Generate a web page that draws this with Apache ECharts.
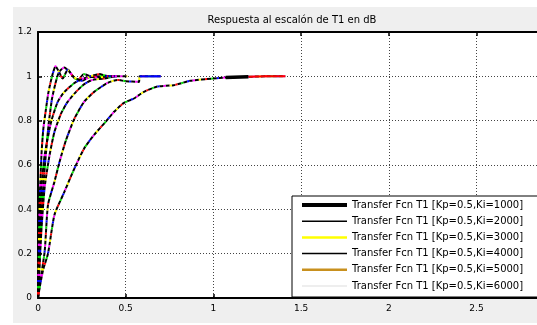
<!DOCTYPE html>
<html>
<head>
<meta charset="utf-8">
<script src="https://cdn.jsdelivr.net/npm/echarts@6/dist/echarts.min.js"></script>
<style>
html,body{margin:0;padding:0;background:#fff;overflow:hidden;}
#c{width:570px;height:325px;}
</style>
</head>
<body>
<div id="c"></div>
<script>
// ---- data ----
const titleText = 'Respuesta al escalón de T1 en dB';
const legendNames = [
  'Transfer Fcn T1 [Kp=0.5,Ki=1000]',
  'Transfer Fcn T1 [Kp=0.5,Ki=2000]',
  'Transfer Fcn T1 [Kp=0.5,Ki=3000]',
  'Transfer Fcn T1 [Kp=0.5,Ki=4000]',
  'Transfer Fcn T1 [Kp=0.5,Ki=5000]',
  'Transfer Fcn T1 [Kp=0.5,Ki=6000]'
];
const tA = [0, 0.01, 0.03, 0.057, 0.094, 0.151, 0.208, 0.264, 0.32, 0.387, 0.434, 0.49, 0.547, 0.604, 0.68, 0.774, 0.868, 1.0, 1.07, 1.2, 1.3, 1.41];
const yA = [0, 0.05, 0.13, 0.2, 0.375, 0.48, 0.585, 0.676, 0.736, 0.796, 0.84, 0.88, 0.90, 0.93, 0.954, 0.96, 0.98, 0.99, 0.995, 0.998, 1.0, 1.0];
const tB = [0, 0.01, 0.038, 0.057, 0.094, 0.123, 0.16, 0.208, 0.264, 0.32, 0.396, 0.453, 0.5, 0.575, 0.58, 0.70];
const yB = [0, 0.06, 0.21, 0.42, 0.525, 0.615, 0.713, 0.81, 0.886, 0.93, 0.97, 0.984, 0.978, 0.975, 1.0, 1.0];
const tC = [0, 0.006, 0.019, 0.038, 0.066, 0.094, 0.132, 0.17, 0.217, 0.264, 0.311, 0.377, 0.45, 0.51];
const yC = [0, 0.1, 0.3, 0.5, 0.645, 0.75, 0.833, 0.886, 0.93, 0.965, 0.984, 0.99, 1.0, 1.0];
const tD = [0, 0.005, 0.0094, 0.02, 0.038, 0.075, 0.113, 0.151, 0.208, 0.264, 0.358, 0.45];
const yD = [0, 0.15, 0.3, 0.5, 0.645, 0.795, 0.886, 0.93, 0.97, 0.992, 1.0, 1.0];
const tE = [0, 0.01, 0.02, 0.03, 0.045, 0.06, 0.08, 0.1, 0.12, 0.15, 0.18, 0.21, 0.25, 0.3, 0.35, 0.4, 0.45];
const yE = [0, 0.2, 0.38, 0.5, 0.65, 0.78, 0.9, 0.97, 1.02, 1.04, 1.02, 0.99, 0.98, 1.0, 1.01, 1.0, 1.0];
const tF = [0, 0.005, 0.01, 0.02, 0.03, 0.045, 0.06, 0.08, 0.1, 0.12, 0.14, 0.17, 0.2, 0.23, 0.26, 0.3, 0.34, 0.4];
const yF = [0, 0.25, 0.45, 0.65, 0.76, 0.85, 0.93, 1.0, 1.045, 1.02, 0.99, 1.03, 1.0, 0.985, 1.01, 1.0, 0.995, 1.0];

const curveT = [tA, tB, tC, tD, tE, tF];
const curveY = [yA, yB, yC, yD, yE, yF];
const legendColors = ['#000000', '#000000', '#ffff00', '#000000', '#c8901e', '#e8e8e8'];
const legendWidths = [4, 1.5, 2.5, 1.5, 2.5, 1.5];
const overlayColors = ['#ff0000', '#00e000', '#0000ff', '#ff00ff', '#ffff00'];

// ---- build ----
function pairs(t, y) { return t.map((v, i) => [v, y[i]]); }

const series = [];
curveT.forEach((t, i) => {
  const d = pairs(t, curveY[i]);
  series.push({
    name: legendNames[i], type: 'line', data: d, symbol: 'none', smooth: 0.2,
    itemStyle: { color: legendColors[i] },
    lineStyle: { color: '#000', width: 2, type: [4, 2] }, z: 3
  });
  overlayColors.forEach((c, k) => {
    series.push({
      name: 'ov' + i + '_' + k, type: 'line', data: d, symbol: 'none', smooth: 0.2,
      lineStyle: { color: c, width: 2, type: [2, 28], dashOffset: (30 - (4 + 6 * k)) % 30 }, z: 4
    });
  });
});
// solid tails seen at the end of the two slowest curves
series.push({ name: 'tailA1', type: 'line', symbol: 'none', z: 5,
  data: pairs(tA, yA).filter(p => p[0] >= 1.07 && p[0] <= 1.2),
  lineStyle: { color: '#000', width: 3.5 } });
series.push({ name: 'tailA2', type: 'line', symbol: 'none', z: 5,
  data: pairs(tA, yA).filter(p => p[0] >= 1.2),
  lineStyle: { color: '#ff0000', width: 2 } });
series.push({ name: 'tailB', type: 'line', symbol: 'none', z: 5,
  data: pairs(tB, yB).filter(p => p[0] >= 0.58),
  lineStyle: { color: '#0000ff', width: 2 } });

const FONT = 'DejaVu Sans';
const axisFont = { color: '#000', fontSize: 9, fontFamily: FONT };
const chart = echarts.init(document.getElementById('c'), null, { renderer: 'canvas' });
chart.setOption({
  animation: false,
  backgroundColor: '#fff',
  graphic: [{ type: 'rect', shape: { x: 13, y: 7, width: 570, height: 316 }, style: { fill: '#efefef' }, z: -10, silent: true }],
  title: {
    text: titleText, left: 287, top: 10, textAlign: 'center',
    textStyle: { fontSize: 10, fontWeight: 'normal', color: '#000', fontFamily: FONT }
  },
  grid: { left: 38, top: 32, right: 2, bottom: 27, show: true, backgroundColor: '#fff', borderWidth: 0 },
  legend: {
    data: legendNames.map((n, i) => ({ name: n, lineStyle: { color: legendColors[i], width: legendWidths[i], type: 'solid' } })),
    orient: 'vertical', left: 292, top: 196,
    itemWidth: 45, itemHeight: 10, itemGap: 6.2,
    padding: [4, 40, 6, 8],
    itemStyle: { opacity: 0 },
    backgroundColor: '#fff', borderColor: '#000', borderWidth: 1,
    textStyle: { color: '#000', fontSize: 10, fontFamily: FONT },
    selectedMode: false
  },
  xAxis: [{
    type: 'value', min: 0, max: 3, interval: 0.5,
    axisLine: { onZero: false, lineStyle: { color: '#000', width: 2 } },
    axisTick: { inside: true, length: 4, lineStyle: { color: '#000', width: 1.5 } },
    axisLabel: Object.assign({ margin: 6 }, axisFont),
    splitLine: { show: true, lineStyle: { color: '#444', type: [1, 2], width: 1 } }
  }, {
    type: 'value', position: 'top', min: 0, max: 3, interval: 0.5,
    axisLine: { onZero: false, lineStyle: { color: '#000', width: 2 } },
    axisTick: { inside: true, length: 4, lineStyle: { color: '#000', width: 1.5 } },
    axisLabel: { show: false }, splitLine: { show: false }
  }],
  yAxis: {
    type: 'value', min: 0, max: 1.2, interval: 0.2,
    axisLine: { onZero: false, show: true, lineStyle: { color: '#000', width: 2 } },
    axisTick: { show: true, inside: true, length: 4, lineStyle: { color: '#000', width: 1.5 } },
    axisLabel: Object.assign({ margin: 6 }, axisFont),
    splitLine: { show: true, lineStyle: { color: '#444', type: [1, 2], width: 1 } }
  },
  series: series
});
</script>
</body>
</html>
